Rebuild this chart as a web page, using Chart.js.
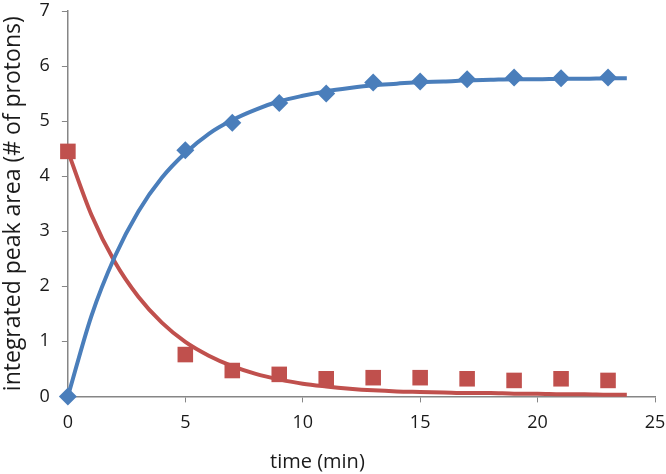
<!DOCTYPE html>
<html>
<head>
<meta charset="utf-8">
<script src="https://cdn.jsdelivr.net/npm/chart.js@4/dist/chart.umd.min.js"></script>
<style>
  html, body { margin: 0; padding: 0; background: #fff; }
  #wrap { width: 666px; height: 474px; position: relative; }
</style>
</head>
<body>
<div id="wrap"><canvas id="c"></canvas></div>
<script>
// Measured data points (time in min)
const times = [0, 5, 7, 9, 11, 13, 15, 17, 19, 21, 23];
const productArea = [0, 4.47, 4.97, 5.33, 5.5, 5.7, 5.72, 5.76, 5.79, 5.78, 5.79];
const reactantArea = [4.45, 0.76, 0.47, 0.40, 0.32, 0.34, 0.34, 0.32, 0.29, 0.32, 0.29];

// Fitted curves
const fitTimes = [0, 1, 2, 3, 4, 5, 6, 7, 8, 9, 10, 11, 12, 13, 14, 15, 16, 17, 18, 19, 20, 21, 22, 23, 23.8];
const productFit = [0, 1.46, 2.54, 3.36, 3.97, 4.42, 4.77, 5.02, 5.21, 5.36, 5.46, 5.54, 5.60, 5.65, 5.68, 5.71, 5.72, 5.74, 5.75, 5.76, 5.76, 5.77, 5.77, 5.78, 5.78];
const reactantFit = [4.45, 3.30, 2.44, 1.81, 1.34, 0.99, 0.74, 0.55, 0.41, 0.31, 0.23, 0.18, 0.14, 0.11, 0.09, 0.08, 0.07, 0.06, 0.06, 0.05, 0.05, 0.04, 0.04, 0.03, 0.03];

const xTicks = [0, 5, 10, 15, 20, 25];
const yTicks = [0, 1, 2, 3, 4, 5, 6, 7];
const xTitle = 'time (min)';
const yTitle = 'integrated peak area (# of protons)';

const BLUE = '#4a7ebb';
const RED = '#c0504d';
const AXIS = '#868686';
const TEXT = '#1a1a1a';
const FONT = "'Open Sans', 'DejaVu Sans', sans-serif";

const pts = (xs, ys) => xs.map((x, i) => ({ x: x, y: ys[i] }));

// Draws the x title slightly left of centre, like the original
const xTitlePlugin = {
  id: 'xTitleLeft',
  afterDraw(chart) {
    const ctx = chart.ctx;
    const xs = chart.scales.x;
    ctx.save();
    ctx.font = '20px ' + FONT;
    ctx.fillStyle = TEXT;
    ctx.textAlign = 'center';
    ctx.textBaseline = 'middle';
    const cx = xs.left + (xs.right - xs.left) * 0.425;
    ctx.fillText(xTitle, cx, xs.bottom - 12);
    ctx.restore();
  }
};

new Chart(document.getElementById('c'), {
  type: 'scatter',
  plugins: [xTitlePlugin],
  data: {
    datasets: [
      {
        label: 'product points',
        data: pts(times, productArea),
        pointStyle: 'rectRot',
        pointRadius: 9,
        pointHoverRadius: 9,
        backgroundColor: BLUE,
        borderColor: BLUE,
        borderWidth: 0,
        showLine: false,
        clip: false,
        order: 1
      },
      {
        label: 'reactant points',
        data: pts(times, reactantArea),
        pointStyle: 'rect',
        pointRadius: 11,
        pointHoverRadius: 11,
        backgroundColor: RED,
        borderColor: RED,
        borderWidth: 0,
        showLine: false,
        clip: false,
        order: 2
      },
      {
        label: 'product fit',
        data: pts(fitTimes, productFit),
        showLine: true,
        pointRadius: 0,
        borderColor: BLUE,
        backgroundColor: BLUE,
        borderWidth: 4,
        cubicInterpolationMode: 'monotone',
        clip: false,
        order: 3
      },
      {
        label: 'reactant fit',
        data: pts(fitTimes, reactantFit),
        showLine: true,
        pointRadius: 0,
        borderColor: RED,
        backgroundColor: RED,
        borderWidth: 4,
        cubicInterpolationMode: 'monotone',
        clip: false,
        order: 4
      }
    ]
  },
  options: {
    responsive: true,
    maintainAspectRatio: false,
    animation: false,
    layout: { padding: { left: 0, right: 7, top: 8, bottom: 0 } },
    plugins: { legend: { display: false }, tooltip: { enabled: false } },
    scales: {
      x: {
        type: 'linear',
        min: 0,
        max: 25,
        afterBuildTicks: (axis) => { axis.ticks = xTicks.map(v => ({ value: v })); },
        afterFit: (axis) => { axis.paddingRight = 0; axis.paddingLeft = 0; },
        ticks: { color: TEXT, font: { family: FONT, size: 18 }, padding: 10, maxRotation: 0 },
        grid: { display: true, drawOnChartArea: false, drawTicks: true, tickLength: 6, color: AXIS, lineWidth: 1 },
        border: { display: true, color: AXIS, width: 1.5 },
        title: { display: true, text: xTitle, color: 'rgba(0,0,0,0)', font: { family: FONT, size: 20 }, padding: { top: 6, bottom: 0 } }
      },
      y: {
        type: 'linear',
        min: 0,
        max: 7,
        afterBuildTicks: (axis) => { axis.ticks = yTicks.map(v => ({ value: v })); },
        afterFit: (axis) => { axis.paddingTop = 0; },
        ticks: { color: TEXT, font: { family: FONT, size: 18 }, padding: 12 },
        grid: { display: true, drawOnChartArea: false, drawTicks: true, tickLength: 6, color: AXIS, lineWidth: 1 },
        border: { display: true, color: AXIS, width: 1.5 },
        title: { display: true, text: yTitle, color: TEXT, font: { family: FONT, size: 23 }, padding: { top: 0, bottom: 0 } }
      }
    }
  }
});
</script>
</body>
</html>
